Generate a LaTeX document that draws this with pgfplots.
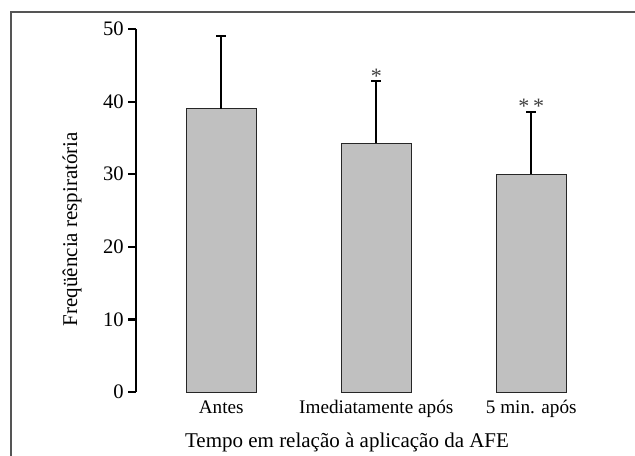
\documentclass[border=0pt]{standalone}
\usepackage{fontspec}
\setmainfont{Liberation Serif}
\usepackage{pgfplots}
\pgfplotsset{compat=1.18}
\definecolor{barfill}{RGB}{192,192,192}
\definecolor{framegray}{RGB}{85,85,85}

\begin{document}
\begin{tikzpicture}
% outer frame (cut off at right and bottom, as in the source)
\draw[framegray,line width=1pt] (5.25pt,-2pt) -- (5.25pt,221.5pt) -- (320pt,221.5pt);

\begin{axis}[
    at={(68pt,31.5pt)}, anchor=south west,
    scale only axis, width=240.25pt, height=181.5pt,
    xmin=-0.55, xmax=2.55, ymin=0, ymax=50,
    axis y line*=left, axis x line*=bottom,
    axis line style={-},
    x axis line style={draw=none},
    y axis line style={line width=1.1pt,black},
    xtick={0,1,2},
    xticklabels={Antes,Imediatamente após,5 min. após},
    ytick={0,10,20,30,40,50},
    tick align=outside, major tick length=4pt,
    xtick style={draw=none},
    ytick style={line width=1.1pt,black},
    /pgf/number format/assume math mode=true,
    yticklabel style={font=\fontsize{10.3}{12}\selectfont,inner sep=2pt},
    xticklabel style={font=\fontsize{9.6}{11}\selectfont,anchor=base,yshift=-6.5pt},
    clip=false,
]
  \addplot[ybar, bar width=35pt, fill=barfill, draw=black!85, line width=0.5pt,
    error bars/.cd, y dir=plus, y explicit,
    error bar style={line width=1pt,black},
    error mark options={rotate=90,mark size=2.5pt,line width=1pt,black}]
    coordinates {(0,39.0) +- (0,10.1) (1,34.25) +- (0,8.65) (2,30.0) +- (0,8.5)};

  % significance marks
  \node[anchor=base,font=\fontsize{11}{12}\selectfont,text=black!75] at (axis cs:1,42.5) {*};
  \node[anchor=base,font=\fontsize{11}{12}\selectfont,text=black!75] at (axis cs:2,38.3) {*\,*};
\end{axis}

\node[rotate=90,anchor=base,font=\fontsize{10.5}{12}\selectfont] at (38.5pt,113pt) {Freqüência respiratória};
\node[anchor=base,font=\fontsize{10.5}{12}\selectfont] at (173.5pt,4pt) {Tempo em relação à aplicação da AFE};

\pgfresetboundingbox
\path[use as bounding box] (0,0) rectangle (317.5pt,227.5pt);
\end{tikzpicture}
\end{document}
